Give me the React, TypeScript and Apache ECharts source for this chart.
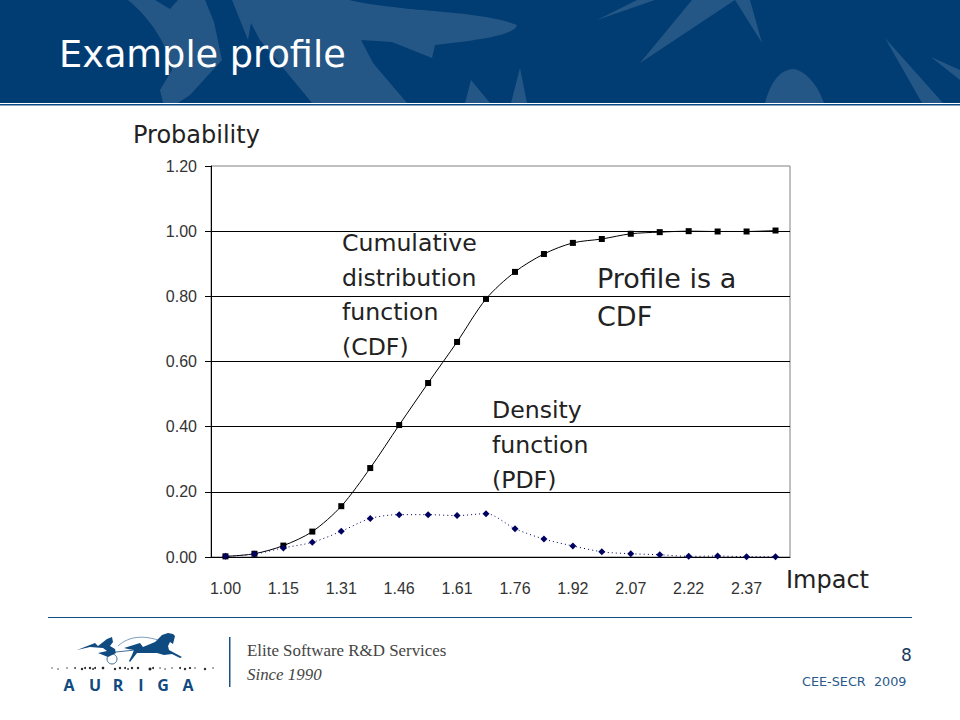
import React, { useEffect, useRef } from "react";
import * as echarts from "echarts";

const categories = ["1.00","1.08","1.15","1.23","1.31","1.38","1.46","1.53","1.61","1.69","1.76","1.84","1.92","1.99","2.07","2.14","2.22","2.30","2.37","2.45"];
const cdfValues = [0.002,0.01,0.035,0.078,0.156,0.273,0.405,0.534,0.66,0.792,0.875,0.93,0.964,0.976,0.992,0.997,1.0,0.999,0.999,1.002];
const pdfValues = [0.002,0.009,0.028,0.045,0.079,0.118,0.13,0.13,0.127,0.133,0.087,0.055,0.034,0.016,0.01,0.007,0.002,0.003,0.001,0.001];
const auriga = [["A",69],["U",95],["R",118],["I",141],["G",163],["A",188]] as [string, number][];
const stars = [[52,0.6],[58,0.7],[67,0.7],[75,0.8],[82,1.2],[85,1],[90,1.2],[93,0.9],[95,1],[103,1.3],[115,1.2],[120,1.2],[125,1],[128,0.8],[132,1.2],[138,1.2],[150,1.5],[153,1],[160,0.7],[165,0.7],[172,0.7],[180,1],[185,1.2],[190,1.1],[195,0.7],[205,1.2],[213,0.7]];

const FEATHERS =
  "M128 0 L155 0 L170 9 L178 0 L205 0 L214 22 L222 60 L190 95 L178 103 L163 103 L160 90 L172 70 C168 45 150 18 128 0 Z " +
  "M232 0 L349 0 C400 12 480 10 517 25 C515 35 480 40 435 45 L432 58 L392 42 L361 40 L373 63 L407 103 L312 103 L260 40 L251 23 L248 40 Z " +
  "M471 80 L490 103 L465 103 Z M520 68 L527 103 L511 103 Z " +
  "M597 20 L637 0 L655 0 Z M692 0 L735 0 L640 63 Z M735 0 L750 0 L762 43 Z " +
  "M765 103 C770 85 778 70 793 69 C805 70 818 85 824 103 Z " +
  "M885 38 L943 103 L922 103 Z M931 57 L960 70 L960 80 Z";
const SLIVER = "M367 0 C400 10 430 12 465 10 C430 3 410 0 400 0 Z";
const HORSE =
  "M124 648 L140 643 L143 647 L155 642 L162 635 L168 633 L173 634 L175 636 L173 644 L170 642 L168 646 L169 650 L182 657 L180 658 L172 654 L164 655 L157 653 L145 653 L137 653 L130 662 L129 661 L132 655 L134 650 L128 649 Z " +
  "M77 650 L95 643 L98 646 L107 639 L112 637 L113 642 L110 646 L115 649 L116 653 L108 657 L98 653 L107 651 L103 648 L90 647 Z";

echarts.graphic.registerShape("feathers", echarts.graphic.extendPath(FEATHERS, {}));
echarts.graphic.registerShape("sliver", echarts.graphic.extendPath(SLIVER, {}));
echarts.graphic.registerShape("horse", echarts.graphic.extendPath(HORSE, {}));

const SANS = "DejaVu Sans";
const txt = (text: string, x: number, y: number, fontSize: number, fill: string, extra: any = {}) => ({
  type: "text", x, y, z: 10,
  style: { text, fontSize, fill, fontFamily: SANS, ...extra },
});

export default function App() {
  const ref = useRef<HTMLDivElement>(null);
  useEffect(() => {
    document.body.style.margin = "0";
    const chart = echarts.init(ref.current!, undefined, { renderer: "svg" });
    chart.setOption({
      animation: false,
      backgroundColor: "#fff",
      grid: { left: 211, right: 170, top: 166, height: 391, show: true, borderColor: "#808080", borderWidth: 1 },
      xAxis: {
        type: "category",
        data: categories,
        boundaryGap: true,
        axisLine: { lineStyle: { color: "#000", width: 1 } },
        axisTick: { length: 6, interval: 0, lineStyle: { color: "#000" } },
        axisLabel: { interval: 1, margin: 23, fontFamily: "Liberation Sans", fontSize: 16, color: "#333" },
      },
      yAxis: {
        type: "value", min: 0, max: 1.2, interval: 0.2,
        axisLine: { show: true, lineStyle: { color: "#000", width: 1 } },
        axisTick: { show: true, length: 6, lineStyle: { color: "#000" } },
        axisLabel: { margin: 14, fontFamily: "Liberation Sans", fontSize: 16, color: "#333", formatter: (v: number) => v.toFixed(2) },
        splitLine: { show: true, showMaxLine: false, lineStyle: { color: "#000", width: 1 } },
      },
      series: [
        { name: "CDF", type: "line", data: cdfValues, smooth: 0.3, symbol: "rect", symbolSize: 6, showSymbol: true,
          lineStyle: { color: "#000", width: 1 }, itemStyle: { color: "#000" } },
        { name: "PDF", type: "line", data: pdfValues, smooth: 0.3, symbol: "diamond", symbolSize: 7, showSymbol: true,
          lineStyle: { color: "#000060", width: 1, type: [1, 3] }, itemStyle: { color: "#000060" } },
      ],
      graphic: [
        { type: "rect", shape: { x: 0, y: 0, width: 960, height: 103 }, style: { fill: "#013d73" }, silent: true },
        { type: "feathers", x: 0, y: 0, style: { fill: "#245786" }, silent: true },
        { type: "sliver", x: 0, y: 0, style: { fill: "#013d73" }, silent: true },
        { type: "rect", shape: { x: 0, y: 104, width: 960, height: 1.6 }, style: { fill: "#0b4c83" }, silent: true },
        txt("Example profile", 59, 36, 36.7, "#fff"),
        txt("Probability", 133, 123, 24, "#222"),
        txt("Impact", 786, 568, 24, "#222"),
        txt("Cumulative\ndistribution\nfunction\n(CDF)", 342, 226, 23.6, "#222", { lineHeight: 34.5 }),
        txt("Density\nfunction\n(PDF)", 492, 392, 23.6, "#222", { lineHeight: 35 }),
        txt("Profile is a\nCDF", 597, 260, 27, "#222", { lineHeight: 37.5 }),
        { type: "rect", shape: { x: 48, y: 617, width: 864, height: 1 }, style: { fill: "#0f5080" }, silent: true },
        { type: "rect", shape: { x: 229, y: 637, width: 1.5, height: 50 }, style: { fill: "#1a5286" }, silent: true },
        { type: "horse", x: 0, y: 0, style: { fill: "#0f4a80" }, silent: true },
        { type: "circle", shape: { cx: 112, cy: 659, r: 5 }, style: { fill: "none", stroke: "#0f4a80", lineWidth: 0.8 }, silent: true },
        { type: "bezierCurve", shape: { x1: 118, y1: 646, x2: 158, y2: 640, cpx1: 130, cpy1: 635, cpx2: 145, cpy2: 636 }, style: { fill: "none", stroke: "#5a82a8", lineWidth: 0.8 }, silent: true },
        { type: "line", shape: { x1: 116, y1: 652, x2: 135, y2: 650 }, style: { stroke: "#0f4a80", lineWidth: 0.8 }, silent: true },
        ...stars.map(([x, r], i) => ({ type: "circle", shape: { cx: x, cy: 668 + (i % 3 === 1 ? 1 : 0), r }, style: { fill: "#222" }, silent: true })),
        ...auriga.map(([c, x]) => ({ type: "text", x, y: 685, z: 10, style: { text: c, fontSize: 16, fontWeight: "bold", fontFamily: "Liberation Sans Narrow, Open Sans", fill: "#0f4a80", align: "center", verticalAlign: "middle" } })),
        txt("Elite Software R&D Services", 247, 642, 16.9, "#444", { fontFamily: "Liberation Serif" }),
        txt("Since 1990", 247, 666, 16.9, "#444", { fontFamily: "Liberation Serif", fontStyle: "italic" }),
        txt("8", 901, 646, 17, "#1a3a5c"),
        txt("CEE-SECR  2009", 802, 675, 12.8, "#2a5a8a"),
      ],
    });
    return () => chart.dispose();
  }, []);
  return <div ref={ref} style={{ width: 960, height: 720 }} />;
}
